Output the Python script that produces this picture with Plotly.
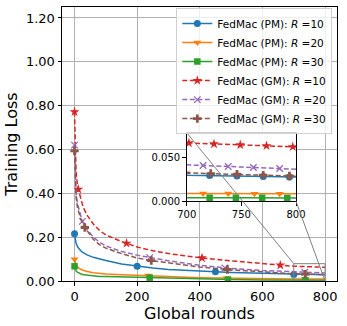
import numpy as np
import plotly.graph_objects as go

rounds = [0, 2, 5, 10, 15, 20, 25, 30, 40, 60, 80, 100, 150, 200, 250, 300, 400, 500, 600, 700, 750, 800]

pm_r10 = [0.216, 0.19, 0.172, 0.155, 0.145, 0.138, 0.132, 0.127, 0.119, 0.108, 0.100, 0.094, 0.078, 0.067, 0.059, 0.053, 0.045, 0.039, 0.035, 0.030, 0.029, 0.028]
pm_r20 = [0.099, 0.085, 0.073, 0.063, 0.057, 0.053, 0.050, 0.047, 0.043, 0.038, 0.034, 0.032, 0.029, 0.027, 0.024, 0.020, 0.015, 0.012, 0.010, 0.009, 0.0088, 0.0086]
pm_r30 = [0.067, 0.056, 0.046, 0.039, 0.035, 0.032, 0.030, 0.028, 0.026, 0.023, 0.021, 0.020, 0.018, 0.0165, 0.015, 0.012, 0.0085, 0.0065, 0.005, 0.0042, 0.004, 0.0038]
gm_r10 = [0.772, 0.60, 0.50, 0.43, 0.40, 0.37, 0.35, 0.33, 0.30, 0.26, 0.23, 0.21, 0.18, 0.155, 0.138, 0.125, 0.106, 0.092, 0.079, 0.0673, 0.065, 0.0627]
gm_r20 = [0.62, 0.47, 0.40, 0.35, 0.32, 0.295, 0.272, 0.26, 0.235, 0.20, 0.177, 0.16, 0.135, 0.118, 0.104, 0.092, 0.072, 0.057, 0.048, 0.042, 0.0395, 0.037]
gm_r30 = [0.594, 0.45, 0.38, 0.33, 0.305, 0.28, 0.262, 0.25, 0.23, 0.19, 0.165, 0.15, 0.125, 0.105, 0.092, 0.082, 0.064, 0.051, 0.041, 0.0327, 0.031, 0.0289]

names = ["FedMac (PM): <i>R</i> =10", "FedMac (PM): <i>R</i> =20", "FedMac (PM): <i>R</i> =30",
         "FedMac (GM): <i>R</i> =10", "FedMac (GM): <i>R</i> =20", "FedMac (GM): <i>R</i> =30"]
series = [pm_r10, pm_r20, pm_r30, gm_r10, gm_r20, gm_r30]

# rounds where markers sit in the main plot and in the zoomed inset
main_marks = [[0, 200, 450, 700], [0, 235, 485, 735], [0, 240, 490, 737],
              [0, 12, 166, 407, 657], [0, 25, 240, 480, 735], [0, 33, 245, 488, 737]]
inset_marks = [[721, 746, 770, 794], [715, 738, 762, 785], [721, 745, 769, 792],
               [702, 725, 749, 773, 797], [715, 738, 761, 785], [699, 722, 746, 770, 794]]

colors = ["#1f77b4", "#ff7f0e", "#2ca02c", "#d62728", "#9467bd", "#8c564b"]
symbols = ["circle", "triangle-down", "square", "star", "x-thin-open", "cross"]
msizes = [7, 7, 6.5, 7.5, 6.5, 7]
dashes = ["solid", "solid", "solid", "5px,2.5px", "5px,2.5px", "5px,2.5px"]

XR = [-40, 838]
YR = [0, 1.25]
IX = [700, 800]
IY = [0, 0.079]
inset_dom_x = [0.4535, 0.851]
inset_dom_y = [0.291, 0.541]

fig = go.Figure()

# white background for inset
fig.add_trace(go.Scatter(x=[700, 800, 800, 700, 700], y=[0, 0, 0.079, 0.079, 0], fill="toself",
                         fillcolor="white", line=dict(width=0), mode="lines", showlegend=False,
                         hoverinfo="skip", xaxis="x2", yaxis="y2"))

for i, ys in enumerate(series):
    mk = dict(symbol=symbols[i], size=msizes[i], color=colors[i],
              line=dict(color=colors[i], width=1.3 if symbols[i] == "x-thin-open" else 0))
    ln = dict(color=colors[i], width=1.5, dash=dashes[i])
    # legend entry
    fig.add_trace(go.Scatter(x=[None], y=[None], mode="lines+markers", name=names[i], line=ln, marker=mk))
    for ax, marks in (("", main_marks[i]), ("2", inset_marks[i])):
        fig.add_trace(go.Scatter(x=rounds, y=ys, mode="lines", line=ln, showlegend=False,
                                 xaxis="x" + ax, yaxis="y" + ax))
        fig.add_trace(go.Scatter(x=marks, y=np.interp(marks, rounds, ys), mode="markers", marker=mk,
                                 showlegend=False, xaxis="x" + ax, yaxis="y" + ax))

def to_paper(x, y):
    return (x - XR[0]) / (XR[1] - XR[0]), (y - YR[0]) / (YR[1] - YR[0])

# zoom rectangle and connectors
fig.add_shape(type="rect", xref="x", yref="y", x0=IX[0], x1=IX[1], y0=IY[0], y1=IY[1],
              line=dict(color="#808080", width=1))
p1 = to_paper(IX[0], IY[1])
p2 = to_paper(IX[1], IY[0])
fig.add_shape(type="line", xref="paper", yref="paper", x0=inset_dom_x[0], y0=inset_dom_y[1],
              x1=p1[0], y1=p1[1], line=dict(color="#808080", width=1))
fig.add_shape(type="line", xref="paper", yref="paper", x0=inset_dom_x[1], y0=inset_dom_y[0],
              x1=p2[0], y1=p2[1], line=dict(color="#808080", width=1))

axis_common = dict(showline=True, mirror=True, linecolor="black", linewidth=1, ticks="outside",
                   ticklen=3.5, tickcolor="black", zeroline=False, automargin=False)

fig.update_layout(
    width=347, height=326,
    margin=dict(l=62, r=10, t=7, b=45),
    paper_bgcolor="white", plot_bgcolor="white",
    font=dict(family="DejaVu Sans", size=13, color="black"),
    xaxis=dict(range=XR, tickvals=[0, 200, 400, 600, 800], showgrid=True, gridcolor="#b0b0b0",
               gridwidth=0.8, title=dict(text="Global rounds", standoff=2), **axis_common),
    yaxis=dict(range=YR, tickvals=[0, 0.2, 0.4, 0.6, 0.8, 1.0, 1.2], tickformat=".2f", showgrid=True,
               gridcolor="#b0b0b0", gridwidth=0.8, title=dict(text="Training Loss", standoff=4), **axis_common),
    xaxis2=dict(domain=inset_dom_x, anchor="y2", range=IX, tickvals=[700, 750, 800], showgrid=False,
                tickfont=dict(size=10), **axis_common),
    yaxis2=dict(domain=inset_dom_y, anchor="x2", range=IY, tickvals=[0, 0.05], tickformat=".3f",
                showgrid=False, tickfont=dict(size=10), **axis_common),
    legend=dict(x=0.983, y=0.996, xanchor="right", yanchor="top", bgcolor="rgba(255,255,255,0.8)",
                bordercolor="#d0d0d0", borderwidth=1, font=dict(size=10.5), tracegroupgap=0,
                itemwidth=30),
    showlegend=True,
)

fig.write_html("out.html", post_script="document.body.style.margin='0';",
               config={"displayModeBar": False})
